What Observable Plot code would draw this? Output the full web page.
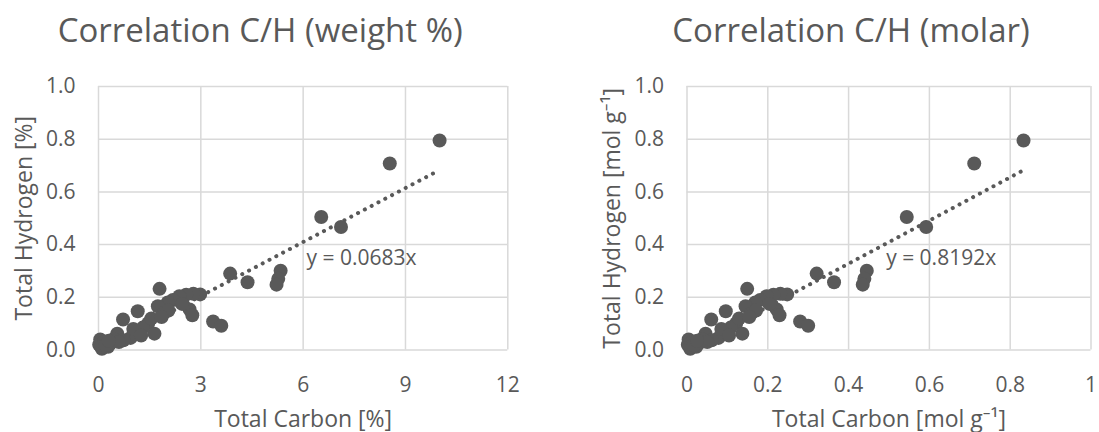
<!DOCTYPE html>
<html>
<head>
<meta charset="utf-8">
<script src="https://cdn.jsdelivr.net/npm/d3@7"></script>
<script src="https://cdn.jsdelivr.net/npm/@observablehq/plot@0.6"></script>
<style>
  html, body { margin: 0; padding: 0; background: #fff; }
  #wrap { position: relative; width: 1099px; height: 432px; overflow: hidden; background: #fff; }
  #left, #right { position: absolute; top: 0; }
  #left { left: 0; }
  #right { left: 549px; }
  svg { overflow: visible; }
</style>
</head>
<body>
<div id="wrap"><div id="left"></div><div id="right"></div></div>
<script>
// ---- data ----
const carbonPct = [10.0, 8.54, 6.53, 7.11, 3.86, 4.37, 5.34, 5.27, 5.22, 3.36, 3.60, 1.79, 2.98, 2.78, 2.57, 2.37, 2.18, 2.03, 1.74, 2.67, 2.75, 1.92, 1.15, 0.72, 1.46, 1.64, 1.12, 0.94, 0.55, 0.45, 0.73, 1.30, 1.55, 0.05, 0.02, 0.10, 0.28, 0.15, 0.35, 0.60, 1.02, 2.05, 1.85, 0.08, 0.20, 0.30, 1.25, 2.45];
const hydrogenPct = [0.795, 0.708, 0.505, 0.467, 0.290, 0.257, 0.301, 0.270, 0.248, 0.108, 0.092, 0.232, 0.211, 0.213, 0.210, 0.204, 0.190, 0.180, 0.166, 0.154, 0.132, 0.140, 0.147, 0.116, 0.102, 0.062, 0.063, 0.046, 0.062, 0.042, 0.037, 0.085, 0.120, 0.040, 0.020, 0.005, 0.012, 0.028, 0.025, 0.030, 0.080, 0.150, 0.125, 0.012, 0.018, 0.035, 0.055, 0.175];
const carbonMol = [0.833, 0.711, 0.544, 0.592, 0.321, 0.364, 0.445, 0.439, 0.435, 0.280, 0.300, 0.149, 0.248, 0.231, 0.214, 0.197, 0.181, 0.169, 0.145, 0.222, 0.229, 0.160, 0.096, 0.060, 0.122, 0.137, 0.093, 0.078, 0.046, 0.037, 0.061, 0.108, 0.129, 0.004, 0.002, 0.008, 0.023, 0.012, 0.029, 0.050, 0.085, 0.171, 0.154, 0.007, 0.017, 0.025, 0.104, 0.204];
const hydrogenMol = [0.795, 0.708, 0.505, 0.467, 0.290, 0.257, 0.301, 0.270, 0.248, 0.108, 0.092, 0.232, 0.211, 0.213, 0.210, 0.204, 0.190, 0.180, 0.166, 0.154, 0.132, 0.140, 0.147, 0.116, 0.102, 0.062, 0.063, 0.046, 0.062, 0.042, 0.037, 0.085, 0.120, 0.040, 0.020, 0.005, 0.012, 0.028, 0.025, 0.030, 0.080, 0.150, 0.125, 0.012, 0.018, 0.035, 0.055, 0.175];
const slopes = [0.0683, 0.8192];
const titles = ["Correlation C/H (weight %)", "Correlation C/H (molar)"];
const xLabels = ["Total Carbon [%]", "Total Carbon [mol g\u207B\u00B9]"];
const yLabels = ["Total Hydrogen [%]", "Total Hydrogen [mol g\u207B\u00B9]"];
const equations = ["y = 0.0683x", "y = 0.8192x"];
const xTicksPct = [0, 3, 6, 9, 12];
const xTicksMol = [0, 0.2, 0.4, 0.6, 0.8, 1];
const yTicks = [0, 0.2, 0.4, 0.6, 0.8, 1.0];

const INK = "#595959";
const GRID = "#d9d9d9";
const FONT = "'Open Sans', 'Noto Sans', sans-serif";

function panel(opts) {
  const {xs, ys, slope, title, xLabel, yLabel, eq, xTicks, xFmt, width, marginLeft, marginRight, xMax, eqPos, titleDx} = opts;
  const pts = xs.map((x, i) => ({x, y: ys[i]}));
  const lo = d3.min(xs), hi = d3.max(xs);
  const trend = [lo, hi].map(x => ({x, y: slope * x}));
  return Plot.plot({
    width, height: 432,
    marginLeft, marginRight, marginTop: 86, marginBottom: 82.5,
    style: {fontFamily: FONT, fontSize: "21px", color: INK, background: "transparent", overflow: "visible"},
    x: {domain: [0, xMax], ticks: xTicks},
    y: {domain: [0, 1], ticks: yTicks},
    marks: [
      Plot.gridX(xTicks, {stroke: GRID, strokeOpacity: 1, strokeWidth: 1.5}),
      Plot.gridY(yTicks, {stroke: GRID, strokeOpacity: 1, strokeWidth: 1.5}),
      Plot.axisX(xTicks, {tickSize: 0, tickPadding: 27, tickFormat: xFmt, label: null, fontSize: 21}),
      Plot.axisY(yTicks, {tickSize: 0, tickPadding: 23, tickFormat: d3.format(".1f"), label: null, fontSize: 21}),
      Plot.line(trend, {x: "x", y: "y", stroke: INK, strokeWidth: 4, strokeDasharray: "0.1 7.6", strokeLinecap: "round"}),
      Plot.dot(pts, {x: "x", y: "y", r: 7, fill: INK, stroke: null}),
      Plot.text([eq], {x: eqPos[0], y: eqPos[1], textAnchor: "start", fontSize: 21, fill: INK}),
      Plot.text([title], {frameAnchor: "top", lineAnchor: "middle", dx: titleDx, dy: -55.5, fontSize: 33, fill: INK}),
      Plot.text([xLabel], {frameAnchor: "bottom", lineAnchor: "middle", dy: 70, fontSize: 23, fill: INK}),
      Plot.text([yLabel], {frameAnchor: "left", lineAnchor: "middle", textAnchor: "middle", dx: -74, rotate: -90, fontSize: 23, fill: INK})
    ]
  });
}

document.getElementById("left").appendChild(panel({
  xs: carbonPct, ys: hydrogenPct, slope: slopes[0], title: titles[0], xLabel: xLabels[0], yLabel: yLabels[0],
  eq: equations[0], xTicks: xTicksPct, xFmt: d3.format("d"), width: 549, marginLeft: 98, marginRight: 41.7,
  xMax: 12, eqPos: [6.1, 0.347], titleDx: -43
}));
document.getElementById("right").appendChild(panel({
  xs: carbonMol, ys: hydrogenMol, slope: slopes[1], title: titles[1], xLabel: xLabels[1], yLabel: yLabels[1],
  eq: equations[1], xTicks: xTicksMol, xFmt: d => d === 0 || d === 1 ? String(d) : d3.format(".1f")(d), width: 550, marginLeft: 137.5, marginRight: 8.5,
  xMax: 1, eqPos: [0.493, 0.347], titleDx: -38
}));
</script>
</body>
</html>
